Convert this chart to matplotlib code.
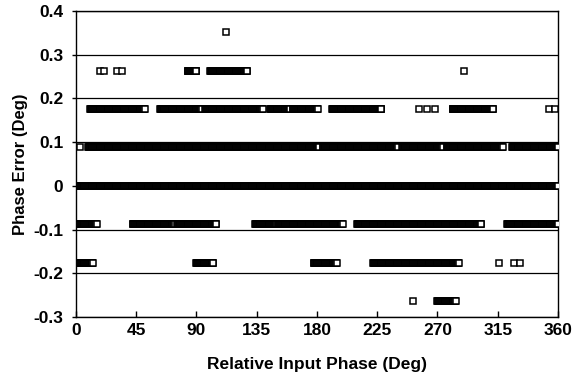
import numpy as np
import matplotlib
matplotlib.use("Agg")
import matplotlib.pyplot as plt

# Phase error quantum (360/4096 deg)
LSB = 360.0 / 4096

# Measured input-phase sweep grid (deg)
input_phase = np.arange(0, 360.0001, 360.0 / 1024)

# Error level (in LSB) -> runs of input phase (deg) where that error was measured
runs = {
    4: [],
    3: [(83, 90), (100, 128)],
    2: [(10.5, 51.5), (62.7, 93.9), (96.5, 139.7), (145, 160), (162, 181),
        (191, 228.5), (281, 311.5)],
    1: [(9, 182), (184, 240.5), (243.5, 274), (277, 319), (325.6, 360)],
    0: [(0, 360)],
    -1: [(0, 15.5), (42.5, 74), (75.5, 105), (133.7, 150), (151, 199.5),
         (210, 303), (322, 360)],
    -2: [(0, 13), (90, 103), (177.5, 195), (222, 286)],
    -3: [(270, 284)],
}
# Isolated measured points: error level (in LSB) -> input phase (deg)
singles = {
    4: [111.8],
    3: [18, 21, 31, 34, 290],
    2: [256, 262, 268, 353, 358],
    1: [3],
    0: [],
    -1: [],
    -2: [316, 327, 332],
    -3: [252],
}

y_ticks = [-0.3, -0.2, -0.1, 0, 0.1, 0.2, 0.3, 0.4]
y_labels = ["-0.3", "-0.2", "-0.1", "0", "0.1", "0.2", "0.3", "0.4"]
x_ticks = [0, 45, 90, 135, 180, 225, 270, 315, 360]

plt.rcParams['font.family'] = ['Liberation Sans', 'DejaVu Sans']

fig = plt.figure(figsize=(5.73, 3.77), dpi=100)
ax = fig.add_axes([0.1326, 0.1592, 0.8412, 0.8116])

xs, ys = [], []
for lvl, segs in runs.items():
    for a, b in segs:
        sel = input_phase[(input_phase >= a) & (input_phase <= b)]
        xs.extend(sel)
        ys.extend([lvl * LSB] * len(sel))
for lvl, pts in singles.items():
    xs.extend(pts)
    ys.extend([lvl * LSB] * len(pts))

ax.plot(xs, ys, linestyle='none', marker='s', markersize=4.6,
        markerfacecolor='white', markeredgecolor='black', markeredgewidth=1.1,
        zorder=3)

ax.set_xlim(0, 360)
ax.set_ylim(-0.3, 0.4)
ax.set_xticks(x_ticks)
ax.set_xticklabels([str(t) for t in x_ticks])
ax.set_yticks(y_ticks)
ax.set_yticklabels(y_labels)
ax.yaxis.grid(True, color='black', linewidth=0.9)
ax.set_axisbelow(True)
ax.tick_params(axis='x', direction='in', length=4, width=1, pad=4)
ax.tick_params(axis='y', direction='out', length=3, width=1, pad=6)
for lab in ax.get_xticklabels() + ax.get_yticklabels():
    lab.set_fontweight('bold')
    lab.set_fontsize(12.5)
for s in ax.spines.values():
    s.set_linewidth(1.0)
    s.set_color('black')

ax.set_xlabel("Relative Input Phase (Deg)", fontsize=12.5, fontweight='bold', labelpad=14)
ax.set_ylabel("Phase Error (Deg)", fontsize=12, fontweight='bold', labelpad=4)

fig.savefig("out.png", dpi=100)
